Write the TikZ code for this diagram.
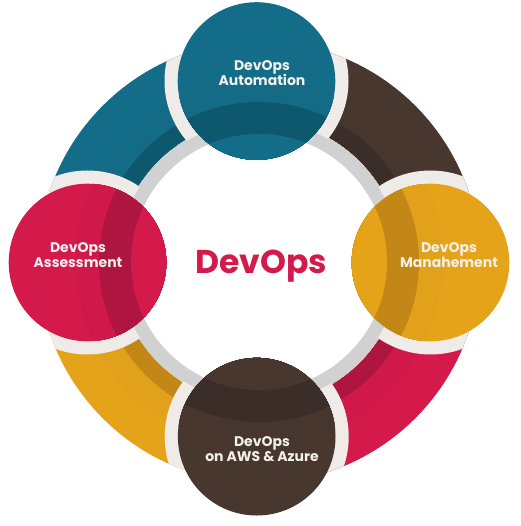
\documentclass[tikz,border=0pt]{standalone}
\usepackage{fontspec}
\setmainfont{Poppins}
\usetikzlibrary{calc}
\definecolor{tealB}{HTML}{146D88}
\definecolor{tealD}{HTML}{0E586E}
\definecolor{brownB}{HTML}{47372F}
\definecolor{brownD}{HTML}{3B2E28}
\definecolor{crimB}{HTML}{D31A4B}
\definecolor{crimD}{HTML}{AE1541}
\definecolor{goldB}{HTML}{E5A31A}
\definecolor{goldD}{HTML}{C28717}
\definecolor{ringgray}{HTML}{D1D1D1}
\definecolor{halo}{HTML}{EEEBE8}
\definecolor{labelwhite}{HTML}{F3F0EB}
\newcommand\shadowfill[2]{%
  \fill[#1] (C) circle[radius=300];
  \foreach \k in {12,...,1}{%
    \pgfmathtruncatemacro\pp{8*\k}%
    \pgfmathsetmacro\rr{160+2*(13-\k)}%
    \fill[#2!\pp!#1] (C) circle[radius=\rr];
  }%
  \fill[#2] (C) circle[radius=160];
  \fill[#1] (C) circle[radius=128];
}
\tikzset{
  lbl/.style={text=labelwhite, font=\fontsize{14}{15.5}\selectfont\bfseries, align=center, inner sep=0pt},
}
\begin{document}
\begin{tikzpicture}[x=1pt,y=1pt]
\useasboundingbox (0,0) rectangle (520,-526);
\fill[white] (0,0) rectangle (520,-526);
\coordinate (C) at (259,-262);
\coordinate (T) at (256.5,-81);
\coordinate (L) at (87.5,-262.5);
\coordinate (R) at (430.5,-262.5);
\coordinate (B) at (256.7,-436.7);
% gray ring
\fill[ringgray, even odd rule] (C) circle[radius=150] (C) circle[radius=128];
% arcs
\foreach \s/\base/\dark in {90/tealB/tealD, 0/brownB/brownD, 270/crimB/crimD, 180/goldB/goldD}{
  \begin{scope}
    \clip ($(C)+(\s:221)$) arc[start angle=\s, end angle=\s+90, radius=221]
      -- ($(C)+(\s+90:143)$) arc[start angle=\s+90, end angle=\s, radius=143] -- cycle;
    \shadowfill{\base}{\dark}
  \end{scope}
}
% halos
\begin{scope}[even odd rule]
  \clip (C) circle[radius=221] (C) circle[radius=141];
  \foreach \p in {T,L,R,B}{\fill[halo] (\p) circle[radius=92];}
\end{scope}
% circles
\foreach \p/\base/\dark in {T/tealB/tealD, L/crimB/crimD, R/goldB/goldD, B/brownB/brownD}{
  \begin{scope}
    \clip (\p) circle[radius=78.8];
    \shadowfill{\base}{\dark}
  \end{scope}
}
% labels
\node[lbl] (tA) at (262,-73) {DevOps\\Automation};
\node[lbl] (tL) at (78,-255) {DevOps\\Assessment};
\node[lbl] (tR) at (449,-255) {DevOps\\Manahement};
\node[lbl] (tB) at (262,-449) {DevOps\\on AWS \& Azure};
\node[text=crimB, font=\fontsize{33}{37}\selectfont\bfseries, anchor=base, inner sep=0pt] (ctr) at (261,-273) {DevOps};
\end{tikzpicture}
\end{document}
